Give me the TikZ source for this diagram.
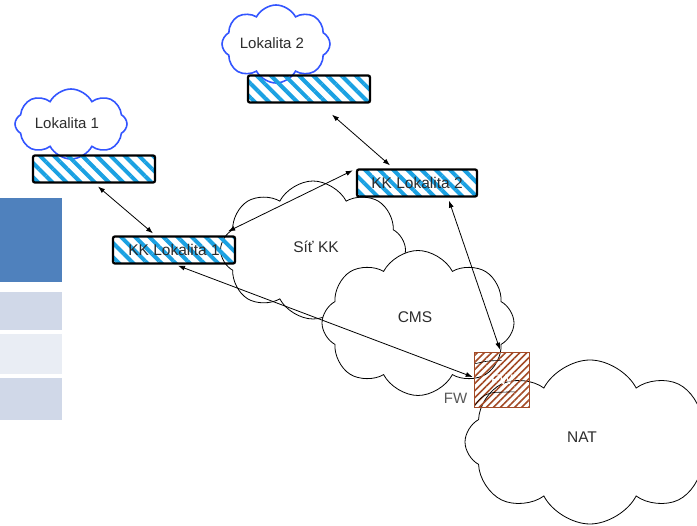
\documentclass[tikz,border=0pt]{standalone}
\usepackage{fontspec}
\setmainfont{Liberation Sans}
\usepackage{tikz}
\usetikzlibrary{arrows.meta,shapes,patterns.meta}
\definecolor{hatchblue}{RGB}{27, 161, 226}
\definecolor{cloudblue}{RGB}{51, 85, 255}
\definecolor{fwbrown}{RGB}{163, 74, 38}
\definecolor{textgray}{RGB}{45, 45, 45}
\definecolor{slideblue}{RGB}{79, 129, 189}
\definecolor{slidelight}{RGB}{208, 216, 232}
\definecolor{slidepale}{RGB}{233, 237, 244}
\tikzstyle{site}=[cloud, draw=cloudblue, line width=1.6pt, fill=white, cloud puffs=8, cloud puff arc=125, cloud ignores aspect, text=textgray, inner sep=0pt, font=\fontsize{15}{17}\selectfont]
\tikzstyle{net}=[cloud, draw, line width=0.8pt, fill=white, cloud puffs=8, cloud puff arc=125, cloud ignores aspect, text=textgray, inner sep=0pt, font=\fontsize{15.5}{18}\selectfont]
\tikzstyle{station}=[rectangle, draw, rounded corners=2pt, line width=2.3pt, pattern={Lines[angle=-45,distance=10pt,line width=4pt]}, pattern color=hatchblue, minimum width=122pt, minimum height=27pt, inner sep=0pt, text=textgray, font=\fontsize{15.5}{17}\selectfont]
\tikzstyle{firewall}=[rectangle, draw=fwbrown, line width=1.1pt, pattern={Lines[angle=45,distance=5pt,line width=1.6pt]}, pattern color=fwbrown, minimum size=55pt, inner sep=0pt, text=white, font=\fontsize{14}{16}\selectfont]
\tikzstyle{link}=[draw, <->, >={Latex[length=7pt,width=5pt]}, line width=0.8pt]

\begin{document}
\begin{tikzpicture}[x=1pt, y=-1pt]
      %
      \useasboundingbox (0,0) rectangle (697,526);
      %
      % slide boxes on the left
      %
      \fill[slideblue] (0,198) rectangle (62,282);
      \fill[slidelight] (0,292) rectangle (62,330);
      \fill[slidepale] (0,334) rectangle (62,374);
      \fill[slidelight] (0,378) rectangle (62,420);
      %
      % networks
      %
      \node[net, minimum width=185pt, minimum height=138pt] (sitkk) at (313,250) {};
      \node[font=\fontsize{15.5}{18}\selectfont, text=textgray] at (316,247) {Síť KK};
      \node[net, minimum width=192pt, minimum height=145pt] (cms) at (418,323) {};
      \node[font=\fontsize{15.5}{18}\selectfont, text=textgray] at (415,317) {CMS};
      \node[net, minimum width=250pt, minimum height=164pt] (nat) at (590,442) {};
      \node[font=\fontsize{15.5}{18}\selectfont, text=textgray] at (582,437) {NAT};
      %
      % sites
      %
      \node[site, minimum width=112pt, minimum height=70pt] (lok1) at (71,124) {};
      \node[font=\fontsize{15}{17}\selectfont, text=textgray] at (67,123) {Lokalita 1};
      \node[site, minimum width=108pt, minimum height=78pt] (lok2) at (276,44) {};
      \node[font=\fontsize{15}{17}\selectfont, text=textgray] at (272,43) {Lokalita 2};
      \node[station] (bar1) at (94,169) {};
      \node[station] (bar2) at (309,89) {};
      %
      % KK stations and FW
      %
      \node[station] (kk1) at (174,250) {KK Lokalita 1};
      \node[station, minimum width=120pt] (kk2) at (417,183) {KK Lokalita 2};
      \node[firewall] (fw) at (502,380) {FW};
      \draw[line width=0.6pt] ([xshift=1.5pt,yshift=-12pt]fw.north west) to[bend left=8] ([xshift=28pt,yshift=-9pt]fw.north west);
      \draw[line width=0.6pt] ([xshift=1.5pt,yshift=3pt]fw.south west) to[out=60,in=180] ([xshift=24pt,yshift=16pt]fw.south west) -- ([xshift=41pt,yshift=16.5pt]fw.south west);
      \node[font=\fontsize{15}{17}\selectfont, text=textgray!80, anchor=east] (fwlabel) at ([xshift=-3pt,yshift=10pt]fw.south west) {FW};
      %
      % Lokalita 1 <--> KK Lokalita 1
      %
      \path [link] ([xshift=4pt,yshift=-2pt]bar1.south) -- ([xshift=-21pt,yshift=2pt]kk1.north);
      %
      % Lokalita 2 <--> KK Lokalita 2
      %
      \path [link] ([xshift=23pt,yshift=-11pt]bar2.south) -- ([xshift=-27pt,yshift=3pt]kk2.north);
      %
      % KK Lokalita 1 <--> KK Lokalita 2
      %
      \path [link] ([xshift=-8pt,yshift=4pt]kk1.north east) -- ([xshift=-3pt,yshift=-2pt]kk2.north west);
      %
      % KK Lokalita 1 <--> FW
      %
      \path [link] ([xshift=4pt,yshift=-1pt]kk1.south) -- ([xshift=-1pt,yshift=3pt]fw.west);
      %
      % KK Lokalita 2 <--> FW
      %
      \path [link] ([xshift=32pt,yshift=-3pt]kk2.south) -- ([xshift=-2pt,yshift=2pt]fw.north);
      %
\end{tikzpicture}
\end{document}
